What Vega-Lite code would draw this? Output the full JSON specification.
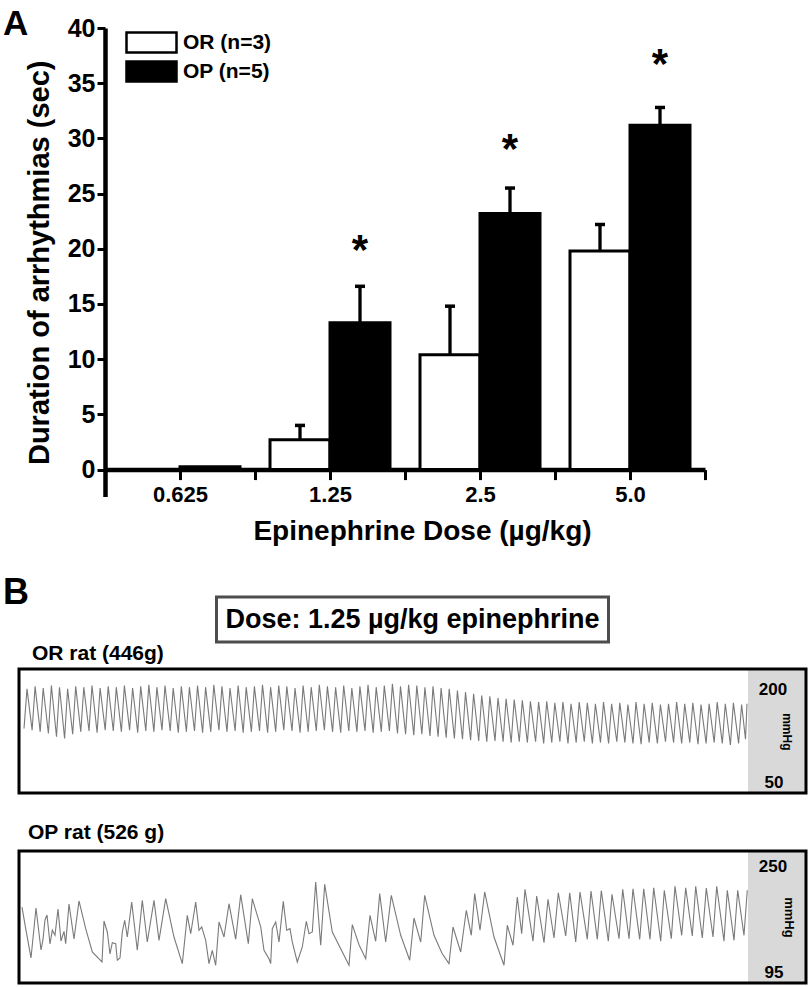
{
  "$schema": "https://vega.github.io/schema/vega-lite/v6.json",
  "autosize": {"type": "pad"},
  "padding": {"left": 1, "top": 7, "right": 0, "bottom": 0},
  "background": "white",
  "bounds": "flush",
  "center": true,
  "spacing": 27,
  "config": {
    "font": "Liberation Sans",
    "view": {"stroke": null},
    "axis": {"grid": false, "labelFont": "Liberation Sans", "titleFont": "Liberation Sans"},
    "title": {"font": "Liberation Sans", "color": "black", "fontWeight": "bold"},
    "legend": {"labelFont": "Liberation Sans"}
  },
  "datasets": {
    "bars": [
      {"dose": "0.625", "group": "OR (n=3)", "mean": 0, "upper": 0},
      {"dose": "0.625", "group": "OP (n=5)", "mean": 0.25, "upper": 0.25},
      {"dose": "1.25", "group": "OR (n=3)", "mean": 2.7, "upper": 4.0},
      {"dose": "1.25", "group": "OP (n=5)", "mean": 13.3, "upper": 16.6},
      {"dose": "2.5", "group": "OR (n=3)", "mean": 10.4, "upper": 14.8},
      {"dose": "2.5", "group": "OP (n=5)", "mean": 23.2, "upper": 25.5},
      {"dose": "5.0", "group": "OR (n=3)", "mean": 19.8, "upper": 22.2},
      {"dose": "5.0", "group": "OP (n=5)", "mean": 31.2, "upper": 32.8}
    ],
    "stars": [
      {"dose": "1.25", "group": "OP (n=5)", "star": 20.4, "sig": "*"},
      {"dose": "2.5", "group": "OP (n=5)", "star": 29.6, "sig": "*"},
      {"dose": "5.0", "group": "OP (n=5)", "star": 37.3, "sig": "*"}
    ],
    "ortrace": [
      {"t":50,"p":128},{"t":80,"p":176},{"t":131,"p":126},{"t":161,"p":179},{"t":212,"p":124},{"t":242,"p":177},
      {"t":294,"p":122},{"t":324,"p":180},{"t":375,"p":118},{"t":405,"p":178},{"t":456,"p":116},{"t":486,"p":176},
      {"t":537,"p":121},{"t":567,"p":179},{"t":618,"p":124},{"t":648,"p":178},{"t":700,"p":125},{"t":730,"p":180},
      {"t":781,"p":123},{"t":811,"p":177},{"t":862,"p":126},{"t":892,"p":179},{"t":943,"p":125},{"t":973,"p":178},
      {"t":1024,"p":124},{"t":1054,"p":180},{"t":1106,"p":126},{"t":1136,"p":177},{"t":1187,"p":123},{"t":1217,"p":179},
      {"t":1268,"p":125},{"t":1298,"p":181},{"t":1349,"p":124},{"t":1379,"p":178},{"t":1430,"p":126},{"t":1460,"p":180},
      {"t":1512,"p":125},{"t":1542,"p":177},{"t":1593,"p":123},{"t":1623,"p":179},{"t":1674,"p":124},{"t":1704,"p":178},
      {"t":1755,"p":125},{"t":1785,"p":180},{"t":1836,"p":123},{"t":1866,"p":178},{"t":1918,"p":124},{"t":1948,"p":181},
      {"t":1999,"p":126},{"t":2029,"p":179},{"t":2080,"p":124},{"t":2110,"p":177},{"t":2161,"p":125},{"t":2191,"p":180},
      {"t":2242,"p":123},{"t":2272,"p":178},{"t":2324,"p":124},{"t":2354,"p":179},{"t":2405,"p":125},{"t":2435,"p":181},
      {"t":2486,"p":123},{"t":2516,"p":178},{"t":2567,"p":124},{"t":2597,"p":180},{"t":2648,"p":126},{"t":2678,"p":179},
      {"t":2730,"p":125},{"t":2760,"p":177},{"t":2811,"p":123},{"t":2841,"p":180},{"t":2892,"p":124},{"t":2922,"p":178},
      {"t":2973,"p":125},{"t":3003,"p":181},{"t":3054,"p":126},{"t":3084,"p":179},{"t":3136,"p":124},{"t":3166,"p":178},
      {"t":3217,"p":123},{"t":3247,"p":180},{"t":3298,"p":125},{"t":3328,"p":177},{"t":3379,"p":124},{"t":3409,"p":179},
      {"t":3460,"p":125},{"t":3490,"p":181},{"t":3542,"p":123},{"t":3572,"p":178},{"t":3623,"p":124},{"t":3653,"p":180},
      {"t":3704,"p":125},{"t":3734,"p":182},{"t":3785,"p":122},{"t":3815,"p":179},{"t":3866,"p":121},{"t":3896,"p":181},
      {"t":3948,"p":120},{"t":3978,"p":180},{"t":4029,"p":121},{"t":4059,"p":178},{"t":4110,"p":119},{"t":4140,"p":179},
      {"t":4191,"p":118},{"t":4221,"p":177},{"t":4272,"p":117},{"t":4302,"p":176},{"t":4354,"p":116},{"t":4384,"p":174},
      {"t":4435,"p":115},{"t":4465,"p":172},{"t":4516,"p":114},{"t":4546,"p":170},{"t":4597,"p":113},{"t":4627,"p":168},
      {"t":4678,"p":112},{"t":4708,"p":167},{"t":4760,"p":113},{"t":4790,"p":165},{"t":4841,"p":112},{"t":4871,"p":164},
      {"t":4922,"p":111},{"t":4952,"p":163},{"t":5003,"p":112},{"t":5033,"p":162},{"t":5084,"p":111},{"t":5114,"p":161},
      {"t":5166,"p":112},{"t":5196,"p":160},{"t":5247,"p":110},{"t":5277,"p":161},{"t":5328,"p":111},{"t":5358,"p":159},
      {"t":5409,"p":112},{"t":5439,"p":160},{"t":5490,"p":110},{"t":5520,"p":158},{"t":5572,"p":111},{"t":5602,"p":160},
      {"t":5653,"p":112},{"t":5683,"p":159},{"t":5734,"p":110},{"t":5764,"p":158},{"t":5815,"p":111},{"t":5845,"p":160},
      {"t":5896,"p":110},{"t":5926,"p":158},{"t":5978,"p":112},{"t":6008,"p":159},{"t":6059,"p":111},{"t":6089,"p":157},
      {"t":6140,"p":110},{"t":6170,"p":160},{"t":6221,"p":109},{"t":6251,"p":158},{"t":6302,"p":111},{"t":6332,"p":159},
      {"t":6384,"p":110},{"t":6414,"p":157},{"t":6465,"p":112},{"t":6495,"p":158},{"t":6546,"p":111},{"t":6576,"p":160},
      {"t":6627,"p":110},{"t":6657,"p":158},{"t":6708,"p":111},{"t":6738,"p":159},{"t":6790,"p":109},{"t":6820,"p":157},
      {"t":6871,"p":110},{"t":6901,"p":158},{"t":6952,"p":111},{"t":6982,"p":160},{"t":7033,"p":110},{"t":7063,"p":158},
      {"t":7114,"p":108},{"t":7144,"p":159},{"t":7196,"p":110},{"t":7226,"p":157},{"t":7265,"p":115},{"t":7280,"p":158}
    ],
    "optrace": [
      {"t":30,"p":184.2},{"t":67,"p":158.8},{"t":120,"p":124.4},{"t":170,"p":183.1},{"t":220,"p":133.8},{"t":240,"p":146.3},
      {"t":260,"p":169.0},{"t":280,"p":174.9},{"t":310,"p":140.8},{"t":333,"p":156.9},{"t":360,"p":151.0},{"t":390,"p":181.9},
      {"t":420,"p":144.3},{"t":450,"p":155.7},{"t":467,"p":141.2},{"t":500,"p":187.8},{"t":550,"p":146.7},{"t":600,"p":191.3},
      {"t":667,"p":158.8},{"t":733,"p":131.4},{"t":830,"p":119.7},{"t":850,"p":167.8},{"t":883,"p":154.9},{"t":910,"p":129.1},
      {"t":933,"p":142.3},{"t":967,"p":141.2},{"t":983,"p":121.7},{"t":1010,"p":124.4},{"t":1033,"p":154.9},{"t":1057,"p":168.6},
      {"t":1083,"p":149.0},{"t":1127,"p":190.1},{"t":1183,"p":133.4},{"t":1233,"p":192.1},{"t":1283,"p":143.1},{"t":1350,"p":192.1},
      {"t":1400,"p":145.1},{"t":1467,"p":194.0},{"t":1550,"p":149.0},{"t":1633,"p":117.7},{"t":1683,"p":174.5},{"t":1717,"p":152.9},
      {"t":1733,"p":164.6},{"t":1767,"p":190.1},{"t":1800,"p":156.9},{"t":1827,"p":160.8},{"t":1867,"p":145.1},{"t":1900,"p":117.7},
      {"t":1933,"p":133.4},{"t":1967,"p":115.8},{"t":2000,"p":166.6},{"t":2050,"p":149.0},{"t":2100,"p":188.1},{"t":2167,"p":146.3},
      {"t":2217,"p":198.7},{"t":2293,"p":141.2},{"t":2333,"p":194.0},{"t":2417,"p":160.8},{"t":2450,"p":133.4},{"t":2500,"p":123.5},
      {"t":2517,"p":117.7},{"t":2533,"p":158.8},{"t":2567,"p":166.6},{"t":2600,"p":143.1},{"t":2643,"p":190.9},{"t":2677,"p":156.9},
      {"t":2710,"p":158.8},{"t":2733,"p":143.1},{"t":2783,"p":119.7},{"t":2833,"p":137.3},{"t":2873,"p":167.5},{"t":2900,"p":152.9},
      {"t":2933,"p":154.9},{"t":2967,"p":213.6},{"t":3017,"p":139.3},{"t":3057,"p":210.9},{"t":3133,"p":154.9},{"t":3300,"p":115.8},
      {"t":3333,"p":163.5},{"t":3400,"p":140.0},{"t":3467,"p":123.5},{"t":3510,"p":174.5},{"t":3567,"p":144.0},{"t":3607,"p":199.9},
      {"t":3667,"p":143.1},{"t":3723,"p":198.0},{"t":3817,"p":151.0},{"t":3907,"p":121.7},{"t":3950,"p":171.3},{"t":4017,"p":143.1},
      {"t":4057,"p":198.0},{"t":4150,"p":151.0},{"t":4230,"p":130.0},{"t":4300,"p":117.7},{"t":4340,"p":160.8},{"t":4417,"p":131.4},
      {"t":4473,"p":180.4},{"t":4523,"p":151.0},{"t":4557,"p":199.9},{"t":4610,"p":156.9},{"t":4657,"p":201.9},{"t":4750,"p":149.0},
      {"t":4850,"p":115.8},{"t":4883,"p":162.8},{"t":4940,"p":139.3},{"t":4983,"p":196.0},{"t":5027,"p":152.9},{"t":5060,"p":205.0},
      {"t":5140,"p":144.0},{"t":5177,"p":197.2},{"t":5250,"p":142.3},{"t":5290,"p":193.3},{"t":5350,"p":147.8},{"t":5393,"p":201.0},
      {"t":5467,"p":150.2},{"t":5507,"p":201.0},{"t":5567,"p":143.1},{"t":5610,"p":201.9},{"t":5683,"p":146.3},{"t":5720,"p":203.0},
      {"t":5783,"p":146.3},{"t":5823,"p":203.4},{"t":5893,"p":144.0},{"t":5930,"p":199.2},{"t":6000,"p":147.0},{"t":6037,"p":205.0},
      {"t":6100,"p":147.0},{"t":6140,"p":205.7},{"t":6207,"p":146.3},{"t":6247,"p":205.7},{"t":6310,"p":146.3},{"t":6347,"p":206.9},
      {"t":6417,"p":144.0},{"t":6453,"p":203.9},{"t":6523,"p":147.0},{"t":6560,"p":208.6},{"t":6627,"p":151.0},{"t":6667,"p":206.9},
      {"t":6733,"p":150.2},{"t":6767,"p":208.6},{"t":6833,"p":147.8},{"t":6873,"p":206.6},{"t":6940,"p":149.0},{"t":6977,"p":208.6},
      {"t":7050,"p":144.0},{"t":7083,"p":203.9},{"t":7150,"p":145.1},{"t":7187,"p":203.9},{"t":7250,"p":151.0},{"t":7283,"p":203.9}
    ]
  },
  "vconcat": [
    {
      "width": 787,
      "height": 541.6,
      "title": {"text": "A", "anchor": "start", "frame": "group", "fontSize": 35, "baseline": "alphabetic", "offset": 0, "dx": -16, "dy": 54},
      "data": {"name": "bars"},
      "resolve": {"axis": {"x": "independent"}},
      "layer": [
        {
          "mark": {"type": "bar", "stroke": "black", "strokeWidth": 3},
          "encoding": {
            "x": {
              "field": "dose", "type": "nominal",
              "scale": {"domain": ["0.625", "1.25", "2.5", "5.0"], "range": [86, 686], "paddingInner": 0, "paddingOuter": 0},
              "axis": {
                "orient": "bottom", "offset": -100, "title": "Epinephrine Dose (µg/kg)", "tickBand": "extent",
                "labelAngle": 0, "labelFontSize": 22, "labelFontWeight": "bold", "labelColor": "black", "labelPadding": 5,
                "tickSize": 10, "tickWidth": 3, "tickColor": "black", "domainColor": "black", "domainWidth": 4.5,
                "titleFontSize": 28, "titleFontWeight": "bold", "titleColor": "black", "titlePadding": 12, "titleX": 403
              }
            },
            "xOffset": {"field": "group", "type": "nominal", "scale": {"domain": ["OR (n=3)", "OP (n=5)"], "paddingOuter": 0.25, "paddingInner": 0}},
            "y": {
              "field": "mean", "type": "quantitative", "title": "Duration of arrhythmias (sec)",
              "scale": {"domain": [-2.45, 40], "range": [468.6, 0], "nice": false, "zero": false},
              "axis": {
                "orient": "left", "offset": -86, "values": [0, 5, 10, 15, 20, 25, 30, 35, 40],
                "labelFontSize": 25, "labelFontWeight": "bold", "labelColor": "black", "labelPadding": 2,
                "tickSize": 8, "tickWidth": 3, "tickColor": "black", "domainColor": "black", "domainWidth": 4.5,
                "titleFontSize": 29, "titleFontWeight": "bold", "titleColor": "black", "titlePadding": 13
              }
            },
            "fill": {
              "field": "group", "type": "nominal",
              "scale": {"domain": ["OR (n=3)", "OP (n=5)"], "range": ["white", "black"]},
              "legend": {
                "title": null, "orient": "none", "legendX": 121, "legendY": 3, "padding": 0,
                "symbolType": "M-2.5,-1H2.5V1H-2.5Z", "symbolSize": 400, "symbolStrokeColor": "black", "symbolStrokeWidth": 2.5,
                "symbolOpacity": 1, "labelFontSize": 21, "labelFontWeight": "bold", "labelColor": "black", "labelOffset": 20, "rowPadding": -2
              }
            }
          }
        },
        {
          "transform": [{"filter": "datum.upper > datum.mean"}],
          "mark": {"type": "rule", "stroke": "black", "strokeWidth": 3.3},
          "encoding": {
            "x": {
              "field": "dose", "type": "nominal",
              "axis": {"orient": "bottom", "offset": -100, "labels": false, "domain": false, "title": null, "tickSize": 10, "tickWidth": 3, "tickColor": "black"}
            },
            "xOffset": {"field": "group", "type": "nominal"},
            "y": {"field": "mean", "type": "quantitative", "title": "Duration of arrhythmias (sec)"},
            "y2": {"field": "upper"}
          }
        },
        {
          "transform": [{"filter": "datum.upper > datum.mean"}],
          "mark": {"type": "tick", "orient": "horizontal", "color": "black", "size": 10, "thickness": 3.5, "opacity": 1},
          "encoding": {
            "x": {"field": "dose", "type": "nominal", "axis": null},
            "xOffset": {"field": "group", "type": "nominal"},
            "y": {"field": "upper", "type": "quantitative", "title": "Duration of arrhythmias (sec)"}
          }
        },
        {
          "data": {"name": "stars"},
          "mark": {"type": "text", "fontSize": 42, "fontWeight": "bold", "baseline": "middle", "dy": 7, "color": "black"},
          "encoding": {
            "x": {"field": "dose", "type": "nominal", "axis": null},
            "xOffset": {"field": "group", "type": "nominal"},
            "y": {"field": "star", "type": "quantitative", "title": "Duration of arrhythmias (sec)"},
            "text": {"field": "sig"}
          }
        }
      ]
    },
    {
      "width": 392,
      "height": 45,
      "view": {"stroke": "#4d4d4d", "strokeWidth": 3},
      "title": {"text": "B", "anchor": "start", "frame": "group", "fontSize": 36, "baseline": "alphabetic", "offset": 0, "dx": -213.5, "dy": 43},
      "data": {"values": [{"label": "Dose: 1.25 µg/kg epinephrine"}]},
      "mark": {"type": "text", "fontSize": 27, "fontWeight": "bold", "baseline": "middle", "color": "black"},
      "encoding": {"text": {"field": "label"}}
    },
    {
      "width": 787,
      "height": 155,
      "title": {"text": "OR rat (446g)", "anchor": "start", "frame": "group", "fontSize": 21, "baseline": "alphabetic", "offset": 8, "dx": 13, "dy": 21},
      "layer": [
        {
          "data": {"values": [{"t0": 7290, "t1": 7870, "p0": 50, "p1": 200}]},
          "mark": {"type": "rect", "fill": "#d9d9d9"},
          "encoding": {
            "x": {"field": "t0", "type": "quantitative", "scale": {"domain": [0, 7870], "nice": false, "zero": false}, "axis": null},
            "x2": {"field": "t1"},
            "y": {"field": "p0", "type": "quantitative", "scale": {"domain": [50, 200], "range": [124, 0], "nice": false, "zero": false}, "axis": null},
            "y2": {"field": "p1"}
          }
        },
        {
          "data": {"name": "ortrace"},
          "mark": {"type": "line", "stroke": "#7a7a7a", "strokeWidth": 1.1},
          "encoding": {
            "x": {"field": "t", "type": "quantitative", "axis": null},
            "y": {"field": "p", "type": "quantitative", "axis": null}
          }
        },
        {
          "data": {"values": [{"t": 7540, "p": 174, "label": "200"}, {"t": 7550, "p": 62, "label": "50"}]},
          "mark": {"type": "text", "fontSize": 17, "fontWeight": "bold", "color": "black", "baseline": "middle"},
          "encoding": {
            "x": {"field": "t", "type": "quantitative", "axis": null},
            "y": {"field": "p", "type": "quantitative", "axis": null},
            "text": {"field": "label"}
          }
        },
        {
          "data": {"values": [{"t": 7680, "p": 124, "label": "mmHg"}]},
          "mark": {"type": "text", "fontSize": 12, "fontWeight": "bold", "color": "black", "baseline": "middle", "angle": 90},
          "encoding": {
            "x": {"field": "t", "type": "quantitative", "axis": null},
            "y": {"field": "p", "type": "quantitative", "axis": null},
            "text": {"field": "label"}
          }
        },
        {
          "data": {"values": [{"t0": 0, "t1": 7870, "p0": 50, "p1": 200}]},
          "mark": {"type": "rect", "fill": null, "stroke": "black", "strokeWidth": 3},
          "encoding": {
            "x": {"field": "t0", "type": "quantitative", "axis": null},
            "x2": {"field": "t1"},
            "y": {"field": "p0", "type": "quantitative", "axis": null},
            "y2": {"field": "p1"}
          }
        }
      ]
    },
    {
      "width": 787,
      "height": 132,
      "title": {"text": "OP rat (526 g)", "anchor": "start", "frame": "group", "fontSize": 21, "baseline": "alphabetic", "offset": 11, "dx": 9, "dy": 21},
      "layer": [
        {
          "data": {"values": [{"t0": 7290, "t1": 7870, "p0": 95, "p1": 250}]},
          "mark": {"type": "rect", "fill": "#d9d9d9"},
          "encoding": {
            "x": {"field": "t0", "type": "quantitative", "scale": {"domain": [0, 7870], "nice": false, "zero": false}, "axis": null},
            "x2": {"field": "t1"},
            "y": {"field": "p0", "type": "quantitative", "scale": {"domain": [95, 250], "nice": false, "zero": false}, "axis": null},
            "y2": {"field": "p1"}
          }
        },
        {
          "data": {"name": "optrace"},
          "mark": {"type": "line", "stroke": "#7a7a7a", "strokeWidth": 1.1},
          "encoding": {
            "x": {"field": "t", "type": "quantitative", "axis": null},
            "y": {"field": "p", "type": "quantitative", "axis": null}
          }
        },
        {
          "data": {"values": [{"t": 7540, "p": 231, "label": "250"}, {"t": 7550, "p": 107, "label": "95"}]},
          "mark": {"type": "text", "fontSize": 17, "fontWeight": "bold", "color": "black", "baseline": "middle"},
          "encoding": {
            "x": {"field": "t", "type": "quantitative", "axis": null},
            "y": {"field": "p", "type": "quantitative", "axis": null},
            "text": {"field": "label"}
          }
        },
        {
          "data": {"values": [{"t": 7700, "p": 172, "label": "mmHg"}]},
          "mark": {"type": "text", "fontSize": 13, "fontWeight": "bold", "color": "black", "baseline": "middle", "angle": 90},
          "encoding": {
            "x": {"field": "t", "type": "quantitative", "axis": null},
            "y": {"field": "p", "type": "quantitative", "axis": null},
            "text": {"field": "label"}
          }
        },
        {
          "data": {"values": [{"t0": 0, "t1": 7870, "p0": 95, "p1": 250}]},
          "mark": {"type": "rect", "fill": null, "stroke": "black", "strokeWidth": 3},
          "encoding": {
            "x": {"field": "t0", "type": "quantitative", "axis": null},
            "x2": {"field": "t1"},
            "y": {"field": "p0", "type": "quantitative", "axis": null},
            "y2": {"field": "p1"}
          }
        }
      ]
    }
  ]
}
